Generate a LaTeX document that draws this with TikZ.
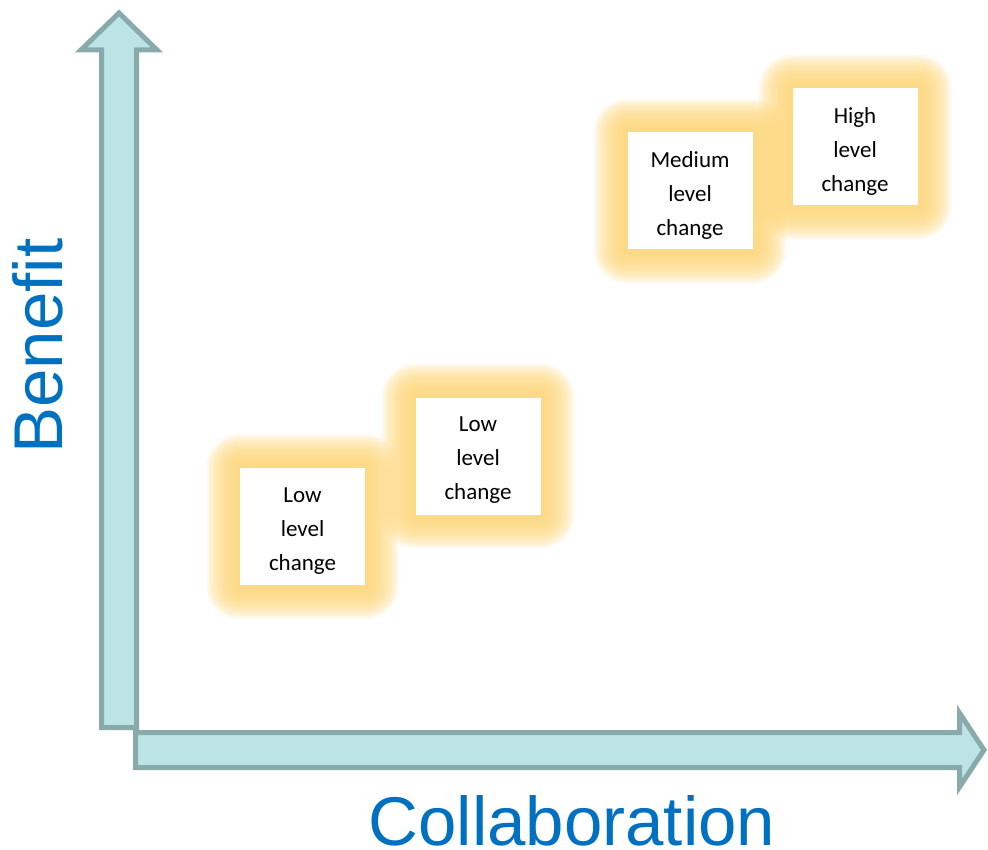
\documentclass[tikz,border=0pt]{standalone}
\usepackage{fontspec}
\setmainfont{Carlito}
\newfontfamily\axisfont{Liberation Sans}
\definecolor{axisfill}{RGB}{189,228,228}
\definecolor{axisline}{RGB}{137,170,170}
\definecolor{axistext}{RGB}{0,112,192}
\definecolor{glowcol}{RGB}{253,214,122}
\tikzset{
  axisarrow/.style={fill=axisfill, draw=axisline, line width=5pt, line join=miter},
  axislabel/.style={font=\axisfont\fontsize{69}{80}\selectfont, text=axistext, inner sep=0pt},
  changebox/.style={fill=white, minimum width=125pt, minimum height=117pt, inner sep=0pt,
    label={[yshift=-4.5pt, align=center, inner sep=0pt, text=black,
      font=\fontsize{23}{34}\selectfont]center:#1}},
  ghostbox/.style={minimum width=125pt, minimum height=117pt, inner sep=0pt},
}
% soft halo behind a box: stacked translucent rounded rectangles
\newcommand\halo[1]{%
  \foreach \e in {34,33,...,1}{%
    \fill[glowcol, fill opacity=0.07, rounded corners=\e pt]
      ([shift={(-\e pt,\e pt)}]#1.north west) rectangle ([shift={(\e pt,-\e pt)}]#1.south east);
  }%
}
\begin{document}
\begin{tikzpicture}[x=1pt,y=-1pt]
\useasboundingbox (0,0) rectangle (988,850);

% axes
\draw[axisarrow] (101.5,727.5) -- (101.5,50) -- (81,50) -- (119,13) -- (157,50)
  -- (136.5,50) -- (136.5,727.5) -- cycle;
\draw[axisarrow] (135.5,732.5) -- (959.5,732.5) -- (959.5,713) -- (984,750)
  -- (959.5,787) -- (959.5,767.5) -- (135.5,767.5) -- cycle;

% axis titles
\node[axislabel, rotate=90, anchor=base] (benefit) at (62,346) {Benefit};
\node[axislabel, anchor=base] (collab) at (572,845) {Collaboration};

% change boxes with their halos
\path (302.5,526.5) coordinate (p1) (478,456) coordinate (p2)
      (690,191) coordinate (p3) (855,147) coordinate (p4);
\node[ghostbox] (g1) at (p1) {};
\node[ghostbox] (g2) at (p2) {};
\node[ghostbox] (g3) at (p3) {};
\node[ghostbox] (g4) at (p4) {};
\halo{g1}\halo{g2}\halo{g3}\halo{g4}
\node[changebox={Low\\level\\change}] (low1) at (p1) {};
\node[changebox={Low\\level\\change}] (low2) at (p2) {};
\node[changebox={Medium\\level\\change}] (medium) at (p3) {};
\node[changebox={High\\level\\change}] (high) at (p4) {};
\end{tikzpicture}
\end{document}
